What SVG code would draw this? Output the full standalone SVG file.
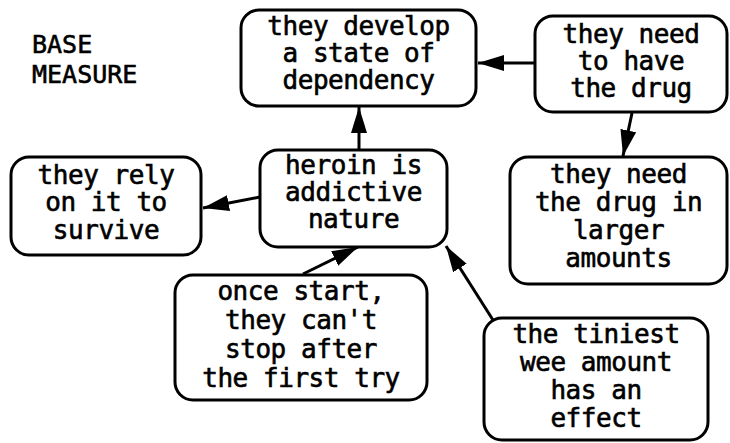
<svg xmlns="http://www.w3.org/2000/svg" width="730" height="443" viewBox="0 0 730 443">
  <style>
    .box { fill: #ffffff; stroke: #000000; stroke-width: 3; }
    .lbl { font-family: "DejaVu Sans Mono", "Liberation Mono", monospace; font-size: 26px; letter-spacing: -0.45px; fill: #000000; stroke: #000000; stroke-width: 0.6; text-anchor: middle; }
    .title { font-family: "DejaVu Sans Mono", "Liberation Mono", monospace; font-size: 25px; fill: #000000; stroke: #000000; stroke-width: 0.6; }
    .edge { stroke: #000000; stroke-width: 3; fill: none; marker-end: url(#head); }
  </style>
  <defs>
    <marker id="head" markerUnits="userSpaceOnUse" markerWidth="28" markerHeight="18" refX="26" refY="8" orient="auto">
      <path d="M0,0 L26,8 L0,16 z" fill="#000000"/>
    </marker>
  </defs>
  <rect width="730" height="443" fill="#ffffff"/>

  <text class="title" x="32" y="53">BASE</text>
  <text class="title" x="32" y="83">MEASURE</text>

  <g id="connectors">
    <line class="edge" x1="359" y1="149" x2="359" y2="107"/>
    <line class="edge" x1="535" y1="63" x2="478" y2="63"/>
    <line class="edge" x1="632" y1="113" x2="623" y2="156"/>
    <line class="edge" x1="260" y1="197" x2="203" y2="208"/>
    <line class="edge" x1="303" y1="274" x2="358" y2="247"/>
    <line class="edge" x1="493" y1="320" x2="446" y2="246"/>
  </g>

  <g id="dependency">
    <rect class="box" x="241" y="10" width="235" height="96" rx="18"/>
    <text class="lbl" x="358.5" y="35">they develop</text>
    <text class="lbl" x="358.5" y="62">a state of</text>
    <text class="lbl" x="358.5" y="89">dependency</text>
  </g>

  <g id="need-to-have">
    <rect class="box" x="535" y="16" width="192" height="96" rx="18"/>
    <text class="lbl" x="631" y="43">they need</text>
    <text class="lbl" x="631" y="70">to have</text>
    <text class="lbl" x="631" y="97">the drug</text>
  </g>

  <g id="rely">
    <rect class="box" x="11" y="157" width="190" height="98" rx="18"/>
    <text class="lbl" x="106" y="184">they rely</text>
    <text class="lbl" x="106" y="211">on it to</text>
    <text class="lbl" x="106" y="239">survive</text>
  </g>

  <g id="heroin">
    <rect class="box" x="260" y="150" width="187" height="97" rx="18"/>
    <text class="lbl" x="353.5" y="174">heroin is</text>
    <text class="lbl" x="353.5" y="201">addictive</text>
    <text class="lbl" x="353.5" y="228">nature</text>
  </g>

  <g id="larger-amounts">
    <rect class="box" x="510" y="157" width="217" height="127" rx="18"/>
    <text class="lbl" x="618.5" y="183">they need</text>
    <text class="lbl" x="618.5" y="211">the drug in</text>
    <text class="lbl" x="618.5" y="239">larger</text>
    <text class="lbl" x="618.5" y="267">amounts</text>
  </g>

  <g id="once-start">
    <rect class="box" x="175" y="275" width="252" height="125" rx="18"/>
    <text class="lbl" x="301" y="300">once start,</text>
    <text class="lbl" x="301" y="329">they can't</text>
    <text class="lbl" x="301" y="358">stop after</text>
    <text class="lbl" x="301" y="387">the first try</text>
  </g>

  <g id="tiniest">
    <rect class="box" x="484" y="318" width="224" height="122" rx="18"/>
    <text class="lbl" x="596" y="343">the tiniest</text>
    <text class="lbl" x="596" y="371">wee amount</text>
    <text class="lbl" x="596" y="399">has an</text>
    <text class="lbl" x="596" y="427">effect</text>
  </g>
</svg>
